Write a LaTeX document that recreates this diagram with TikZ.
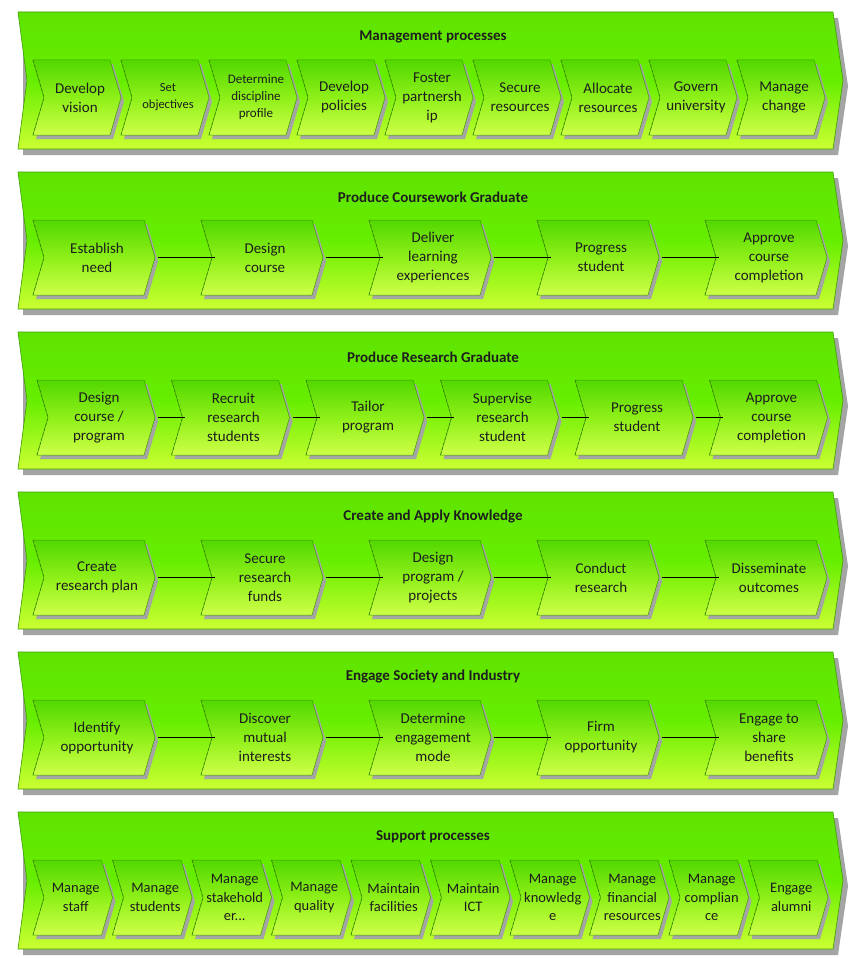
\documentclass[tikz,border=0pt]{standalone}
\usepackage{fontspec}
\setmainfont{Carlito}
\definecolor{bandtop}{HTML}{5FE400}
\definecolor{bandmid}{HTML}{66EE00}
\definecolor{bandbot}{HTML}{CCFF33}
\definecolor{bandline}{HTML}{3E9E00}
\definecolor{chevtop}{HTML}{52D800}
\definecolor{chevmid}{HTML}{8EF018}
\definecolor{chevbot}{HTML}{CFFF48}
\definecolor{chevline}{HTML}{3F9A00}
\definecolor{chevdash}{HTML}{2E7A00}
\definecolor{shadowc}{HTML}{A4A4A4}
\definecolor{txt}{HTML}{1E1E1E}
\tikzset{
  chevtext/.style={inner sep=0pt, align=center, text=txt, font=\fontsize{15}{19}\selectfont},
  smalltext/.style={chevtext, font=\fontsize{14.5}{18.5}\selectfont},
  titlestyle/.style={inner sep=0pt, text=txt, font=\fontsize{15}{18}\selectfont\bfseries},
  conn/.style={draw=black, line width=0.7pt},
  bandshape/.style={top color=bandtop, bottom color=bandbot, middle color=bandmid, draw=bandline, line width=0.6pt},
  chevfill/.style={top color=chevtop, bottom color=chevbot, middle color=chevmid, draw=chevline, line width=0.5pt}
}
\newcommand\chevshape[4]{%
  \path[#1] ({#2},{#3}) -- ({#2+#4-11},{#3}) -- ({#2+#4},{#3+37.5}) -- ({#2+#4-11},{#3+75}) -- ({#2},{#3+75}) -- ({#2+11},{#3+37.5}) -- cycle;}
\newcommand\chev[6][chevtext]{%
  \chevshape{fill=shadowc}{#3+3}{#4+4}{#5}
  \chevshape{chevfill}{#3}{#4}{#5}
  \draw[chevdash, dashed, line width=0.5pt, dash pattern=on 3pt off 2pt] ({#3},{#4}) -- ({#3+11},{#4+37.5}) -- ({#3},{#4+75});
  \node[#1, minimum width=#5pt, minimum height=75pt] (#2) at ({#3+#5/2+3},{#4+37.5}) {#6};}
\newcommand\bandbox[3]{%
  \path[fill=shadowc] (23,{#2+6}) -- (838,{#2+6}) -- (848,{#2+74}) -- (838,{#2+143}) -- (23,{#2+143}) -- cycle;
  \path[bandshape] (18,#2) -- (833,#2) -- (843,{#2+68.5}) -- (833,{#2+137}) -- (18,{#2+137}) -- (27,{#2+68.5}) -- cycle;
  \node[titlestyle] (#1) at (433,{#2+25}) {#3};}
\begin{document}
\begin{tikzpicture}[x=1pt, y=-1pt]
\useasboundingbox (0,0) rectangle (850,958);
% Band 1
\bandbox{t1}{12}{Management processes}
\chev{m1}{33}{60}{88}{Develop\\vision}
\chev[chevtext, font=\fontsize{12.5}{17}\selectfont]{m2}{121}{60}{88}{Set\\objectives}
\chev[chevtext, font=\fontsize{13}{17}\selectfont]{m3}{209}{60}{88}{Determine\\discipline\\profile}
\chev{m4}{297}{60}{88}{Develop\\policies}
\chev{m5}{385}{60}{88}{Foster\\partnersh\\ip}
\chev{m6}{473}{60}{88}{Secure\\resources}
\chev{m7}{561}{60}{88}{Allocate\\resources}
\chev{m8}{649}{60}{88}{Govern\\university}
\chev{m9}{737}{60}{88}{Manage\\change}
% Band 2
\bandbox{t2}{172}{Produce Coursework Graduate}
\chev{c1}{33}{220}{122}{Establish\\need}
\chev{c2}{201}{220}{122}{Design\\course}
\chev{c3}{369}{220}{122}{Deliver\\learning\\experiences}
\chev{c4}{537}{220}{122}{Progress\\student}
\chev{c5}{705}{220}{122}{Approve\\course\\completion}
\draw[conn] (c1.east) -- ([xshift=11pt]c2.west);
\draw[conn] (c2.east) -- ([xshift=11pt]c3.west);
\draw[conn] (c3.east) -- ([xshift=11pt]c4.west);
\draw[conn] (c4.east) -- ([xshift=11pt]c5.west);
% Band 3
\bandbox{t3}{332}{Produce Research Graduate}
\chev{r1}{37}{380}{118}{Design\\course /\\program}
\chev{r2}{171.5}{380}{118}{Recruit\\research\\students}
\chev{r3}{306}{380}{118}{Tailor\\program}
\chev{r4}{440.5}{380}{118}{Supervise\\research\\student}
\chev{r5}{575}{380}{118}{Progress\\student}
\chev{r6}{709.5}{380}{118}{Approve\\course\\completion}
\draw[conn] (r1.east) -- ([xshift=11pt]r2.west);
\draw[conn] (r2.east) -- ([xshift=11pt]r3.west);
\draw[conn] (r3.east) -- ([xshift=11pt]r4.west);
\draw[conn] (r4.east) -- ([xshift=11pt]r5.west);
\draw[conn] (r5.east) -- ([xshift=11pt]r6.west);
% Band 4
\bandbox{t4}{492}{Create and Apply Knowledge}
\chev{k1}{33}{540}{122}{Create\\research plan}
\chev{k2}{201}{540}{122}{Secure\\research\\funds}
\chev{k3}{369}{540}{122}{Design\\program /\\projects}
\chev{k4}{537}{540}{122}{Conduct\\research}
\chev{k5}{705}{540}{122}{Disseminate\\outcomes}
\draw[conn] (k1.east) -- ([xshift=11pt]k2.west);
\draw[conn] (k2.east) -- ([xshift=11pt]k3.west);
\draw[conn] (k3.east) -- ([xshift=11pt]k4.west);
\draw[conn] (k4.east) -- ([xshift=11pt]k5.west);
% Band 5
\bandbox{t5}{652}{Engage Society and Industry}
\chev{e1}{33}{700}{122}{Identify\\opportunity}
\chev{e2}{201}{700}{122}{Discover\\mutual\\interests}
\chev{e3}{369}{700}{122}{Determine\\engagement\\mode}
\chev{e4}{537}{700}{122}{Firm\\opportunity}
\chev{e5}{705}{700}{122}{Engage to\\share\\benefits}
\draw[conn] (e1.east) -- ([xshift=11pt]e2.west);
\draw[conn] (e2.east) -- ([xshift=11pt]e3.west);
\draw[conn] (e3.east) -- ([xshift=11pt]e4.west);
\draw[conn] (e4.east) -- ([xshift=11pt]e5.west);
% Band 6
\bandbox{t6}{812}{Support processes}
\chev[smalltext]{s1}{33}{860}{79.5}{Manage\\staff}
\chev[smalltext]{s2}{112.5}{860}{79.5}{Manage\\students}
\chev[smalltext]{s3}{192}{860}{79.5}{Manage\\stakehold\\er...}
\chev[smalltext]{s4}{271.5}{860}{79.5}{Manage\\quality}
\chev[smalltext]{s5}{351}{860}{79.5}{Maintain\\facilities}
\chev[smalltext]{s6}{430.5}{860}{79.5}{Maintain\\ICT}
\chev[smalltext]{s7}{510}{860}{79.5}{Manage\\knowledg\\e}
\chev[smalltext]{s8}{589.5}{860}{79.5}{Manage\\financial\\resources}
\chev[smalltext]{s9}{669}{860}{79.5}{Manage\\complian\\ce}
\chev[smalltext]{s10}{748.5}{860}{79.5}{Engage\\alumni}
\end{tikzpicture}
\end{document}
